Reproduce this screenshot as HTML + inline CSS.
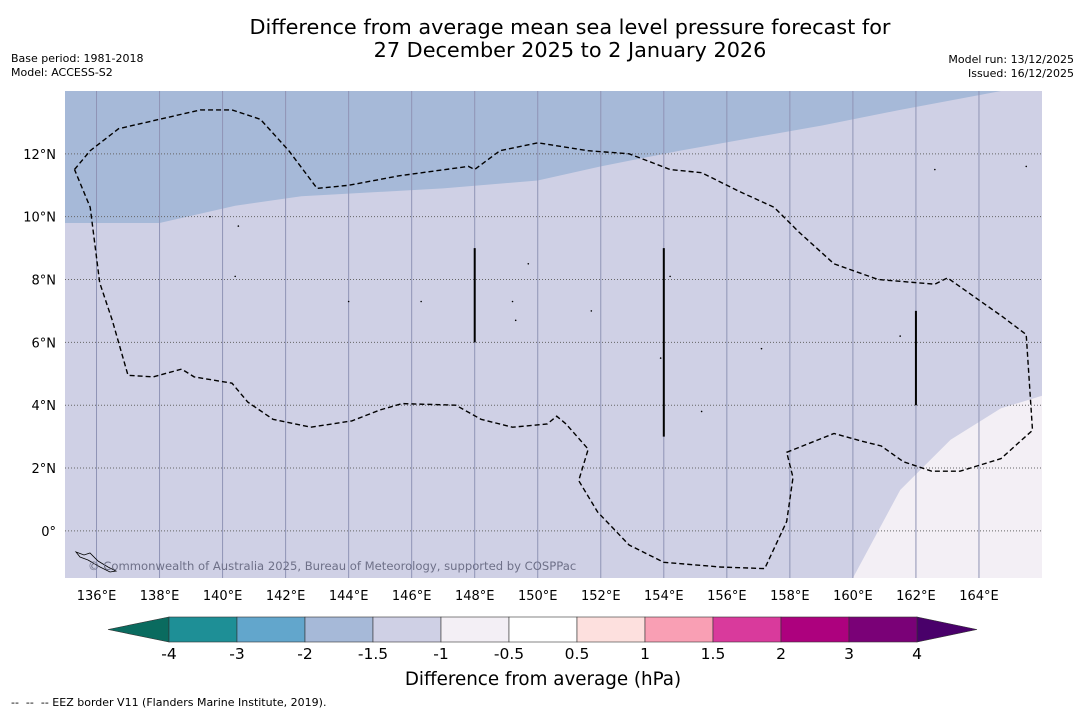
<!DOCTYPE html>
<html><head><meta charset="utf-8">
<style>
body{margin:0;background:#fff;width:1085px;height:713px;overflow:hidden;font-family:"DejaVu Sans","Liberation Sans",sans-serif;}
svg text{font-family:"DejaVu Sans","Liberation Sans",sans-serif;}
</style></head>
<body>
<svg id="chart" width="1085" height="713" xmlns="http://www.w3.org/2000/svg">
<text x="570" y="34" font-size="20.8" text-anchor="middle" fill="#000">Difference from average mean sea level pressure forecast for</text>
<text x="570" y="57" font-size="20.8" text-anchor="middle" fill="#000">27 December 2025 to 2 January 2026</text>
<text x="11" y="62" font-size="11">Base period: 1981-2018</text>
<text x="11" y="76" font-size="11">Model: ACCESS-S2</text>
<text x="1074" y="63" font-size="11" text-anchor="end">Model run: 13/12/2025</text>
<text x="1074" y="77" font-size="11" text-anchor="end">Issued: 16/12/2025</text>
<g id="map"></g>
<g id="cbar"></g>
<text x="543" y="685" font-size="18.3" text-anchor="middle">Difference from average (hPa)</text>
<text x="11" y="706" font-size="11" xml:space="preserve">--  --  -- EEZ border V11 (Flanders Marine Institute, 2019).</text>
</svg>
<script>
const lonTicks=[136,138,140,142,144,146,148,150,152,154,156,158,160,162,164];
const latTicks=[0,2,4,6,8,10,12];
const cbarBounds=[-4,-3,-2,-1.5,-1,-0.5,0.5,1,1.5,2,3,4];
const cbarColors=["#1e8f96","#62a6cc","#a6b9d8","#cfd0e5","#f3eff5","#ffffff","#fde0de","#f99fb4","#d93a9c","#ad017e","#7a0177"];
const blueRegion=[[135,9.8],[138,9.8],[140.4,10.35],[142.5,10.65],[147,10.9],[150,11.15],[152,11.6],[154.5,12.1],[159,12.9],[161.5,13.4],[164.7,14],[135,14]];
const lightRegion=[[160,-1.5],[161.5,1.3],[163.1,2.9],[164.7,3.9],[166,4.3],[166,-1.5]];
const eez=[[135.3,11.5],[135.8,12.1],[136.7,12.8],[138,13.1],[139.3,13.4],[140.3,13.4],[141.2,13.1],[142.1,12.1],[143,10.9],[144,11],[145.6,11.3],[147.8,11.6],[148,11.5],[148.8,12.1],[150,12.35],[151.6,12.1],[152.9,12],[154.2,11.5],[155.2,11.4],[156.4,10.8],[157.5,10.3],[158.3,9.5],[159.4,8.5],[160.8,8],[162.6,7.85],[163,8.05],[164.7,6.85],[165.5,6.25],[165.7,3.2],[164.7,2.3],[163.4,1.9],[162.5,1.9],[161.6,2.2],[160.9,2.7],[160.3,2.85],[159.4,3.1],[158.4,2.7],[157.9,2.5],[158.1,1.7],[157.9,0.3],[157.2,-1.2],[155.8,-1.15],[154,-1],[152.9,-0.45],[151.9,0.6],[151.3,1.6],[151.6,2.6],[150.9,3.4],[150.6,3.65],[150.3,3.4],[149.2,3.3],[148.2,3.55],[147.4,4],[145.7,4.05],[145,3.85],[144.1,3.5],[142.8,3.3],[141.6,3.55],[140.8,4.1],[140.3,4.7],[139.1,4.9],[138.7,5.15],[137.8,4.9],[137,4.95],[136.5,6.7],[136.1,7.9],[135.8,10.3],[135.3,11.5]];
const bars=[[148,6,9],[154,3,9],[162,4,7]];
const islands=[[140.4,8.1],[144,7.3],[146.3,7.3],[149.2,7.3],[149.3,6.7],[149.7,8.5],[151.7,7],[153.9,5.5],[155.2,3.8],[157.1,5.8],[161.5,6.2],[162.6,11.5],[165.5,11.6],[139.6,10],[140.5,9.7],[154.2,8.1]];
const NS="http://www.w3.org/2000/svg";
const x0=65,x1=1042,y0=91,y1=578,lonMin=135,lonMax=166,latMin=-1.5,latMax=14;
const X=l=>x0+(l-lonMin)/(lonMax-lonMin)*(x1-x0);
const Y=l=>y1-(l-latMin)/(latMax-latMin)*(y1-y0);
function mk(p,t,a){const e=document.createElementNS(NS,t);for(const k in a)e.setAttribute(k,a[k]);p.appendChild(e);return e;}
const map=document.getElementById('map');
const clip=mk(document.querySelector('svg'),'clipPath',{id:'mc'});mk(clip,'rect',{x:x0,y:y0,width:x1-x0,height:y1-y0});
let bg=mk(map,'rect',{x:x0,y:y0,width:x1-x0,height:y1-y0,fill:'#cfd0e5'});


const g=mk(map,'g',{'clip-path':'url(#mc)'});
const pts=a=>a.map(p=>X(p[0]).toFixed(1)+','+Y(p[1]).toFixed(1)).join(' ');
let br=mk(g,'polygon',{points:pts(blueRegion),fill:'#a6b9d8'});


let lr=mk(g,'polygon',{points:pts(lightRegion),fill:'#f3eff5'});


lonTicks.forEach(l=>{
 let ln=mk(g,'line',{x1:X(l),x2:X(l),y1:y0,y2:y1,stroke:'#8f93b5','stroke-width':1});
 
 
 let t=mk(map,'text',{x:X(l),y:600,'font-size':13,'text-anchor':'middle'});t.textContent=l+'°E';
 
 
});
latTicks.forEach(l=>{
 let ln=mk(g,'line',{x1:x0,x2:x1,y1:Y(l),y2:Y(l),stroke:'#666','stroke-width':1,'stroke-dasharray':'1,2'});
 
 
 let t=mk(map,'text',{x:56,y:Y(l)+5,'font-size':13,'text-anchor':'end'});t.textContent=l+'°'+(l>0?'N':'');
 
 
});
let ez=mk(g,'polyline',{points:pts(eez),fill:'none',stroke:'#000','stroke-width':1.4,'stroke-dasharray':'5,3'});


bars.forEach(b=>{let l=mk(g,'line',{x1:X(b[0]),x2:X(b[0]),y1:Y(b[2]),y2:Y(b[1]),stroke:'#000','stroke-width':2});
 
 });
islands.forEach(p=>{let c=mk(g,'circle',{cx:X(p[0]),cy:Y(p[1]),r:0.8,fill:'#000'});
 
 });
let sol=mk(g,'path',{d:'M76,552 l8,3 l6,-2 l8,8 l10,6 l8,4 l-6,1 l-10,-5 l-12,-7 l-8,-3 z',fill:'none',stroke:'#000','stroke-width':0.8});


let cp=mk(map,'text',{x:88,y:570,'font-size':11.6,fill:'#6e7088'});cp.textContent='© Commonwealth of Australia 2025, Bureau of Meteorology, supported by COSPPac';


const cb=document.getElementById('cbar');
const cx0=169,cw=68,cy=617,ch=25;
let lt=mk(cb,'polygon',{points:`${cx0},${cy} ${cx0},${cy+ch} 108,${cy+ch/2}`,fill:'#0a6b5f',stroke:'#333','stroke-width':0.6});


const cx1=cx0+cw*cbarColors.length;
let rt=mk(cb,'polygon',{points:`${cx1},${cy} ${cx1},${cy+ch} 977,${cy+ch/2}`,fill:'#49006a',stroke:'#333','stroke-width':0.6});


cbarColors.forEach((c,i)=>{let r=mk(cb,'rect',{x:cx0+i*cw,y:cy,width:cw,height:ch,fill:c,stroke:'#333','stroke-width':0.6});
 
 });
cbarBounds.forEach((v,i)=>{let t=mk(cb,'text',{x:cx0+i*cw,y:659,'font-size':15.5,'text-anchor':'middle'});t.textContent=v;
 
 });
</script>
</body></html>
